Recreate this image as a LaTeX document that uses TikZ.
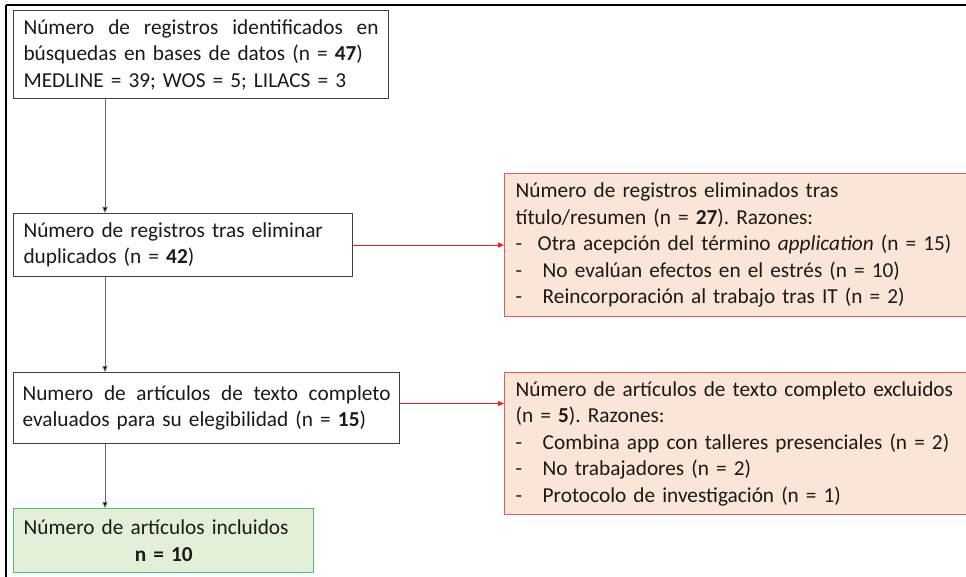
\documentclass[tikz,border=0pt]{standalone}
\usepackage{fontspec}
\setmainfont[WordSpace=0.85]{Carlito}
\usetikzlibrary{arrows.meta,calc}
\definecolor{txt}{HTML}{1A1A1A}
\definecolor{gborder}{HTML}{404040}
\definecolor{rfill}{HTML}{FBE5D6}
\definecolor{rborder}{HTML}{EE5A5A}
\definecolor{gfill}{HTML}{E2F0D9}
\definecolor{grborder}{HTML}{4CC46E}
\definecolor{arrred}{HTML}{FF1A1A}
\tikzset{
  base/.style={anchor=north west, inner xsep=10pt, inner ysep=0pt, text=txt, align=left,
    font=\fontsize{21.3}{26.5}\selectfont\frenchspacing},
  whitebox/.style={base, draw=gborder, line width=1.1pt, fill=white},
  redbox/.style={base, draw=rborder, line width=1.4pt, fill=rfill, inner xsep=11pt},
  greenbox/.style={base, draw=grborder, line width=1.4pt, fill=gfill},
  flowarr/.style={draw=black!60, line width=0.8pt, -{Triangle[length=6pt,width=5pt,fill=black]}},
  redarr/.style={draw=arrred, line width=1pt, -{Triangle[length=6pt,width=5pt]}},
}
\newcommand{\itm}[2][27pt]{\makebox[#1][l]{-}#2}
\begin{document}
\begin{tikzpicture}[x=1pt,y=-1pt]
\useasboundingbox (0,0) rectangle (966,577);
\fill[white] (0,0) rectangle (966,577);
% outer frame (partially visible)
\draw[black, line width=2pt] (6,5) -- (980,5);
\draw[black, line width=2pt] (6,5) -- (6,590);

\node[whitebox, minimum width=375pt, minimum height=88pt, text width=355pt] (b1) at (13,10)
  {\hbox to 355pt{Número\hfill de\hfill registros\hfill identificados\hfill en}\\ búsquedas en bases de datos (n = \textbf{47})\\ MEDLINE = 39; WOS = 5; LILACS = 3};

\node[whitebox, minimum width=339pt, minimum height=63pt, text width=319pt] (b2) at (13,213)
  {Número de registros tras eliminar\\ duplicados (n = \textbf{42})};

\node[whitebox, minimum width=386pt, minimum height=71pt, text width=368pt, inner xsep=9pt] (b3) at (13,372)
  {\hbox to 368pt{Numero\hfill de\hfill artículos\hfill de\hfill texto\hfill completo}\\ evaluados para su elegibilidad (n = \textbf{15})};

\node[greenbox, minimum width=300pt, minimum height=64pt, text width=280pt] (b4) at (13,508)
  {Número de artículos incluidos\\ \hbox to 280pt{\hfill\textbf{n = 10}\hfill}};

\node[redbox, minimum width=480pt, minimum height=143pt, text width=458pt] (r1) at (504,173)
  {Número de registros eliminados tras\\ título/resumen (n = \textbf{27}). Razones:\\
   \itm[22pt]{Otra acepción del término \textit{application} (n = 15)}\\
   \itm{No evalúan efectos en el estrés (n = 10)}\\
   \itm{Reincorporación al trabajo tras IT (n = 2)}};

\node[redbox, minimum width=480pt, minimum height=142pt, text width=458pt] (r2) at (504,372)
  {Número de artículos de texto completo excluidos\\ (n = \textbf{5}). Razones:\\
   \itm{Combina app con talleres presenciales (n = 2)}\\
   \itm{No trabajadores (n = 2)}\\
   \itm{Protocolo de investigación (n = 1)}};

\coordinate (spine) at (105,0);
\draw[flowarr] (b1.south -| spine) -- (b2.north -| spine);
\draw[flowarr] (b2.south -| spine) -- (b3.north -| spine);
\draw[flowarr] (b3.south -| spine) -- (b4.north -| spine);
\draw[redarr] (b2.east) -- (b2.east -| r1.west);
\draw[redarr] ([yshift=4.5pt]b3.east) -- ([yshift=4.5pt]b3.east -| r2.west);
\end{tikzpicture}
\end{document}
